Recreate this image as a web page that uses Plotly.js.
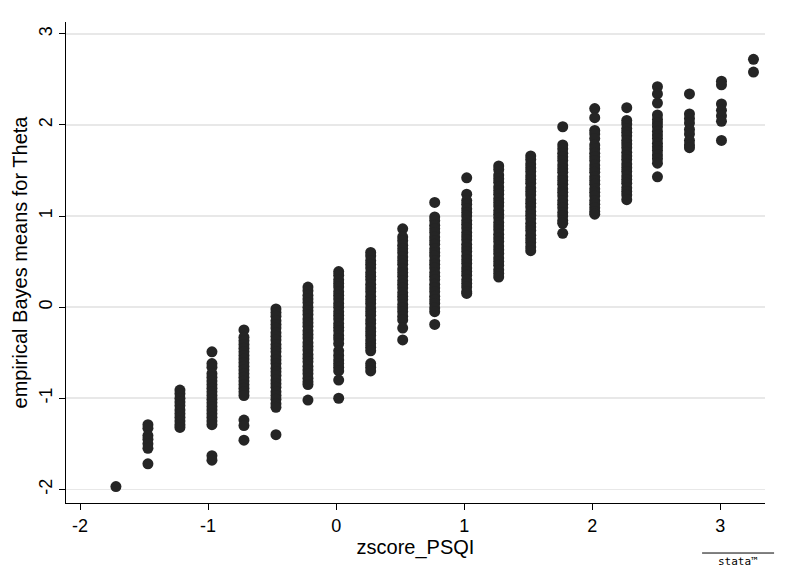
<!DOCTYPE html>
<html>
<head>
<meta charset="utf-8">
<script src="https://cdn.plot.ly/plotly-3.0.1.min.js"></script>
<style>
  html, body { margin: 0; padding: 0; background: #fff; }
  #plot { width: 787px; height: 570px; }
</style>
</head>
<body>
<div id="plot"></div>
<script>
// zscore_PSQI levels (one column of points each)
var psqiLevels = [-1.72, -1.47, -1.22, -0.97, -0.72, -0.47, -0.22, 0.02, 0.27, 0.52,
                  0.77, 1.02, 1.27, 1.52, 1.77, 2.02, 2.27, 2.51, 2.76, 3.01, 3.26];

// empirical Bayes means for Theta
var theta01 = [-1.97];
var theta02 = [-1.29, -1.33, -1.41, -1.45, -1.50, -1.55, -1.72];
var theta03 = [-0.91, -0.95, -1.00, -1.04, -1.08, -1.13, -1.17, -1.21, -1.25, -1.29, -1.32];
var theta04 = [-0.49, -0.62, -0.66, -0.73, -0.77, -0.81, -0.85, -0.89, -0.93, -0.97, -1.01,
               -1.05, -1.09, -1.13, -1.17, -1.21, -1.25, -1.29, -1.63, -1.68];
var theta05 = [-0.25, -0.33, -0.37, -0.41, -0.45, -0.49, -0.53, -0.57, -0.61, -0.65, -0.69,
               -0.73, -0.77, -0.81, -0.85, -0.89, -0.93, -0.97, -1.24, -1.30, -1.46];
var theta06 = [-0.02, -0.06, -0.10, -0.15, -0.19, -0.23, -0.28, -0.32, -0.36, -0.41, -0.45,
               -0.49, -0.54, -0.58, -0.62, -0.67, -0.71, -0.75, -0.80, -0.84, -0.88, -0.93,
               -0.97, -1.01, -1.06, -1.10, -1.40];
var theta07 = [0.22, 0.18, 0.13, 0.09, 0.05, 0.00, -0.04, -0.08, -0.13, -0.17, -0.21, -0.26,
               -0.30, -0.34, -0.39, -0.43, -0.47, -0.52, -0.56, -0.60, -0.65, -0.69, -0.73,
               -0.78, -0.82, -0.85, -1.02];
var theta08 = [0.39, 0.35, 0.30, 0.26, 0.22, 0.17, 0.13, 0.09, 0.04, 0.00, -0.05, -0.09,
               -0.13, -0.18, -0.22, -0.26, -0.31, -0.35, -0.40, -0.48, -0.53, -0.58, -0.62,
               -0.66, -0.70, -0.80, -1.00];
var theta09 = [0.60, 0.56, 0.51, 0.47, 0.43, 0.38, 0.34, 0.30, 0.25, 0.21, 0.17, 0.12, 0.08,
               0.04, -0.01, -0.05, -0.09, -0.14, -0.18, -0.23, -0.27, -0.31, -0.36, -0.40,
               -0.44, -0.48, -0.62, -0.66, -0.70];
var theta10 = [0.86, 0.77, 0.73, 0.68, 0.64, 0.60, 0.55, 0.51, 0.47, 0.42, 0.38, 0.34, 0.29,
               0.25, 0.21, 0.16, 0.12, 0.08, 0.03, -0.01, -0.05, -0.10, -0.14, -0.23, -0.36];
var theta11 = [1.15, 0.99, 0.95, 0.90, 0.86, 0.82, 0.77, 0.73, 0.69, 0.64, 0.60, 0.56, 0.51,
               0.47, 0.43, 0.38, 0.34, 0.30, 0.25, 0.21, 0.17, 0.12, 0.08, 0.04, -0.01, -0.05,
               -0.19];
var theta12 = [1.42, 1.24, 1.17, 1.13, 1.08, 1.04, 1.00, 0.95, 0.91, 0.87, 0.82, 0.78, 0.74,
               0.69, 0.65, 0.61, 0.56, 0.52, 0.48, 0.43, 0.39, 0.35, 0.30, 0.26, 0.22, 0.17,
               0.15];
var theta13 = [1.55, 1.51, 1.45, 1.41, 1.37, 1.32, 1.28, 1.24, 1.19, 1.15, 1.11, 1.06, 1.02,
               0.98, 0.93, 0.89, 0.85, 0.80, 0.76, 0.72, 0.67, 0.63, 0.59, 0.54, 0.50, 0.46,
               0.41, 0.37, 0.33];
var theta14 = [1.66, 1.62, 1.57, 1.53, 1.49, 1.44, 1.40, 1.36, 1.31, 1.27, 1.23, 1.18, 1.14,
               1.10, 1.05, 1.01, 0.97, 0.92, 0.88, 0.84, 0.79, 0.75, 0.71, 0.66, 0.62];
var theta15 = [1.98, 1.78, 1.74, 1.69, 1.65, 1.61, 1.56, 1.52, 1.48, 1.43, 1.39, 1.35, 1.30,
               1.26, 1.22, 1.17, 1.13, 1.09, 1.04, 1.00, 0.95, 0.92, 0.81];
var theta16 = [2.18, 2.08, 1.94, 1.90, 1.85, 1.78, 1.74, 1.69, 1.65, 1.61, 1.56, 1.52, 1.48,
               1.43, 1.39, 1.35, 1.30, 1.26, 1.22, 1.17, 1.13, 1.09, 1.05, 1.02];
var theta17 = [2.19, 2.05, 2.01, 1.96, 1.92, 1.88, 1.83, 1.79, 1.75, 1.70, 1.66, 1.62, 1.57,
               1.53, 1.49, 1.44, 1.40, 1.36, 1.31, 1.27, 1.23, 1.18];
var theta18 = [2.42, 2.34, 2.24, 2.11, 2.06, 2.02, 1.98, 1.93, 1.89, 1.85, 1.80, 1.76, 1.72,
               1.67, 1.63, 1.58, 1.43];
var theta19 = [2.34, 2.12, 2.07, 2.02, 1.95, 1.90, 1.83, 1.78, 1.75];
var theta20 = [2.48, 2.44, 2.23, 2.16, 2.10, 2.04, 1.83];
var theta21 = [2.72, 2.58];

var tickVals = [-2, -1, 0, 1, 2, 3];

var columns = [theta01, theta02, theta03, theta04, theta05, theta06, theta07, theta08,
               theta09, theta10, theta11, theta12, theta13, theta14, theta15, theta16,
               theta17, theta18, theta19, theta20, theta21];

// flatten into x/y for one scatter trace
var xs = [], ys = [];
columns.forEach(function (col, i) {
    col.forEach(function (v) {
        xs.push(psqiLevels[i]);
        ys.push(v);
    });
});

var trace = {
    x: xs,
    y: ys,
    mode: "markers",
    type: "scatter",
    marker: { color: "#252525", size: 11, line: { width: 0 } },
    hoverinfo: "x+y"
};

var font = "Liberation Sans, Arial, Helvetica, sans-serif";

var layout = {
    width: 787,
    height: 570,
    margin: { l: 66, r: 22, t: 22, b: 67 },
    paper_bgcolor: "#ffffff",
    plot_bgcolor: "#ffffff",
    showlegend: false,
    font: { family: font, color: "#000000", size: 18 },
    xaxis: {
        range: [-2.11, 3.35],
        tickvals: tickVals,
        ticktext: tickVals.map(String),
        showgrid: false,
        zeroline: false,
        showline: true,
        linecolor: "#000000",
        linewidth: 1,
        ticks: "outside",
        ticklen: 6,
        tickcolor: "#000000",
        tickfont: { size: 18 },
        title: { text: "zscore_PSQI", font: { size: 20 }, standoff: 4 }
    },
    yaxis: {
        range: [-2.15, 3.13],
        tickvals: tickVals,
        ticktext: tickVals.map(String),
        tickangle: -90,
        showgrid: true,
        gridcolor: "#e8e8e8",
        gridwidth: 1.5,
        zeroline: false,
        showline: true,
        linecolor: "#000000",
        linewidth: 1,
        ticks: "outside",
        ticklen: 6,
        tickcolor: "#000000",
        tickfont: { size: 18 },
        title: { text: "empirical Bayes means for Theta", font: { size: 20 }, standoff: 2 }
    },
    annotations: [{
        xref: "paper", yref: "paper",
        x: 0.962, y: -0.121,
        xanchor: "center", yanchor: "middle",
        text: "stata™",
        showarrow: false,
        font: { family: "DejaVu Sans Mono, monospace", size: 11, color: "#000000" }
    }],
    shapes: [{
        type: "line", xref: "paper", yref: "paper",
        x0: 0.91, x1: 1.013, y0: -0.104, y1: -0.104,
        line: { color: "#000000", width: 1 }
    }]
};

Plotly.newPlot("plot", [trace], layout, { displayModeBar: false, staticPlot: true });
</script>
</body>
</html>
